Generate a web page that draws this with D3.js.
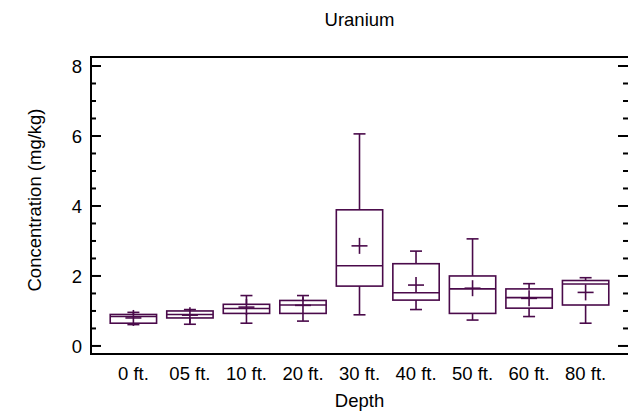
<!DOCTYPE html>
<html>
<head>
<meta charset="utf-8">
<script src="https://cdn.jsdelivr.net/npm/d3@7"></script>
<style>
  html, body { margin: 0; padding: 0; background: #fff; }
  svg { display: block; font-family: "Liberation Sans", Arial, sans-serif; }
</style>
</head>
<body>
<svg id="chart" width="628" height="419"></svg>
<script>
// Uranium concentration by sampling depth: box-and-whisker summary
const categories  = ["0 ft.", "05 ft.", "10 ft.", "20 ft.", "30 ft.", "40 ft.", "50 ft.", "60 ft.", "80 ft."];
const whiskerLow  = [0.61, 0.62, 0.65, 0.71, 0.89, 1.04, 0.74, 0.84, 0.65];
const q1          = [0.65, 0.80, 0.93, 0.93, 1.71, 1.31, 0.93, 1.08, 1.17];
const median      = [0.84, 0.90, 1.07, 1.17, 2.29, 1.52, 1.63, 1.38, 1.77];
const q3          = [0.90, 1.00, 1.19, 1.30, 3.89, 2.35, 2.00, 1.63, 1.87];
const whiskerHigh = [0.96, 1.04, 1.44, 1.44, 6.06, 2.71, 3.06, 1.78, 1.95];
const means       = [0.80, 0.88, 1.11, 1.16, 2.86, 1.74, 1.65, 1.36, 1.53];
const yMajorTicks = [0, 2, 4, 6, 8];
const yMinorTicks = [0.5, 1, 1.5, 2.5, 3, 3.5, 4.5, 5, 5.5, 6.5, 7, 7.5];

(function () {
  const boxes = categories.map((c, i) => ({
    i, label: c, lo: whiskerLow[i], q1: q1[i], med: median[i],
    q3: q3[i], hi: whiskerHigh[i], mean: means[i]
  }));

  const svg = d3.select("#chart");
  const pL = 91, pR = 628, pT = 57, pB = 354;
  const ink = "#4a0a4a";
  const fs = 18.5;

  const x = d3.scaleLinear().domain([-0.75, categories.length - 0.25]).range([pL, pR]);
  const y = d3.scaleLinear().domain([-0.23, 8.257]).range([pB, pT]);

  const boxW = 0.82 * (x(1) - x(0));
  const capW = 12;
  const plusR = 8;

  // Title
  svg.append("text")
    .attr("x", (pL + pR) / 2).attr("y", 26)
    .attr("text-anchor", "middle")
    .attr("font-size", fs)
    .text("Uranium");

  // Frame
  const frame = svg.append("g").attr("stroke", "#000").attr("stroke-width", 2).attr("fill", "none");
  frame.append("line").attr("x1", pL).attr("x2", pL).attr("y1", pT).attr("y2", pB + 1);
  frame.append("line").attr("x1", pL - 1).attr("x2", pR + 2).attr("y1", pT).attr("y2", pT);
  frame.append("line").attr("x1", pL - 1).attr("x2", pR + 2).attr("y1", pB).attr("y2", pB);

  // Y ticks on both sides, pointing inward
  const ticks = svg.append("g").attr("stroke", "#000").attr("stroke-width", 2);
  const tickSet = (cls, data, x1, x2) =>
    ticks.selectAll("line." + cls).data(data).join("line")
      .attr("class", cls)
      .attr("x1", x1).attr("x2", x2)
      .attr("y1", d => y(d)).attr("y2", d => y(d));
  tickSet("maj-l", yMajorTicks, pL, pL + 10);
  tickSet("min-l", yMinorTicks, pL, pL + 5);
  tickSet("maj-r", yMajorTicks, pR - 10, pR);
  tickSet("min-r", yMinorTicks, pR - 5, pR);

  // Y tick labels
  svg.append("g").selectAll("text").data(yMajorTicks).join("text")
    .attr("x", 82).attr("y", d => y(d))
    .attr("dy", "0.36em")
    .attr("text-anchor", "end")
    .attr("font-size", fs)
    .text(d => d);

  // X category labels
  svg.append("g").selectAll("text").data(boxes).join("text")
    .attr("x", d => x(d.i)).attr("y", 380)
    .attr("text-anchor", "middle")
    .attr("font-size", fs)
    .text(d => d.label);

  // Axis titles
  svg.append("text")
    .attr("x", (pL + pR) / 2).attr("y", 407)
    .attr("text-anchor", "middle")
    .attr("font-size", fs)
    .text("Depth");

  svg.append("text")
    .attr("transform", `translate(41,200) rotate(-90)`)
    .attr("text-anchor", "middle")
    .attr("font-size", fs)
    .text("Concentration (mg/kg)");

  // Boxes
  const g = svg.append("g")
    .attr("stroke", ink).attr("stroke-width", 1.6).attr("fill", "none");

  const bx = g.selectAll("g.box").data(boxes).join("g").attr("class", "box");

  // whiskers
  bx.append("line")
    .attr("x1", d => x(d.i)).attr("x2", d => x(d.i))
    .attr("y1", d => y(d.q3)).attr("y2", d => y(d.hi));
  bx.append("line")
    .attr("x1", d => x(d.i)).attr("x2", d => x(d.i))
    .attr("y1", d => y(d.q1)).attr("y2", d => y(d.lo));
  bx.append("line")
    .attr("x1", d => x(d.i) - capW / 2).attr("x2", d => x(d.i) + capW / 2)
    .attr("y1", d => y(d.hi)).attr("y2", d => y(d.hi));
  bx.append("line")
    .attr("x1", d => x(d.i) - capW / 2).attr("x2", d => x(d.i) + capW / 2)
    .attr("y1", d => y(d.lo)).attr("y2", d => y(d.lo));

  // interquartile box
  bx.append("rect")
    .attr("x", d => x(d.i) - boxW / 2)
    .attr("width", boxW)
    .attr("y", d => y(d.q3))
    .attr("height", d => y(d.q1) - y(d.q3));

  // median
  bx.append("line")
    .attr("x1", d => x(d.i) - boxW / 2).attr("x2", d => x(d.i) + boxW / 2)
    .attr("y1", d => y(d.med)).attr("y2", d => y(d.med));

  // mean marker
  bx.append("line")
    .attr("x1", d => x(d.i) - plusR).attr("x2", d => x(d.i) + plusR)
    .attr("y1", d => y(d.mean)).attr("y2", d => y(d.mean));
  bx.append("line")
    .attr("x1", d => x(d.i)).attr("x2", d => x(d.i))
    .attr("y1", d => y(d.mean) - plusR).attr("y2", d => y(d.mean) + plusR);
})();
</script>
</body>
</html>
